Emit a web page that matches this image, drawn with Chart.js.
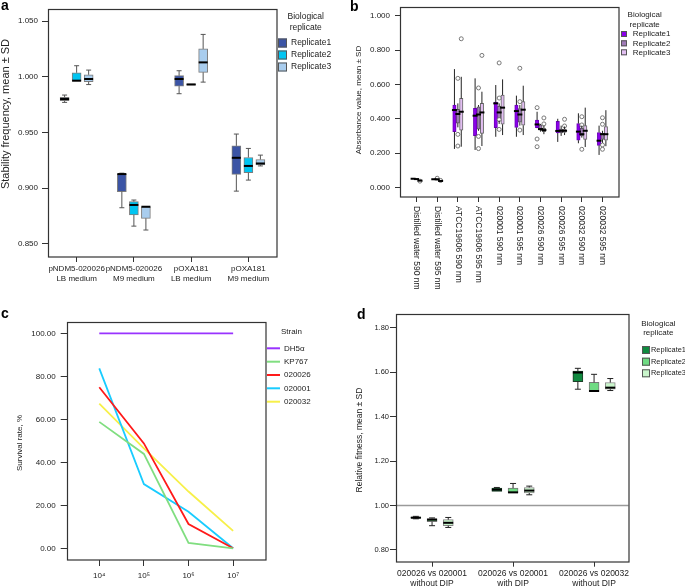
<!DOCTYPE html>
<html>
<head>
<meta charset="utf-8">
<script src="https://cdn.jsdelivr.net/npm/chart.js@4"></script>
<style>
body { margin: 0; background: #fff; width: 685px; height: 588px; position: relative; overflow: hidden; font-family: "Liberation Sans", Arial, sans-serif; }
canvas { position: absolute; }
.tag { position: absolute; font-weight: bold; font-size: 14px; line-height: 14px; color: #000; }
</style>
</head>
<body>
<canvas id="chartA" width="340" height="300" style="left:0;top:0"></canvas>
<canvas id="chartB" width="345" height="300" style="left:340px;top:0"></canvas>
<canvas id="chartC" width="340" height="288" style="left:0;top:300px"></canvas>
<canvas id="chartD" width="345" height="288" style="left:340px;top:300px"></canvas>
<div class="tag" style="left:1px;top:-2px">a</div>
<div class="tag" style="left:350px;top:-1px">b</div>
<div class="tag" style="left:1px;top:306px">c</div>
<div class="tag" style="left:357px;top:307px">d</div>
<script>
// box stats are [min, q1, median, q3, max]

// a: plasmid stability
const aCats = [['pNDM5-020026', 'LB medium'], ['pNDM5-020026', 'M9 medium'], ['pOXA181', 'LB medium'], ['pOXA181', 'M9 medium']];
const aTicks = [0.85, 0.90, 0.95, 1.00, 1.05];
const aRep1 = [[0.977, 0.9785, 0.980, 0.9815, 0.9836], [0.8825, 0.897, 0.9127, 0.9127, 0.9135], [0.9848, 0.9916, 0.998, 1.001, 1.0054], [0.8974, 0.9124, 0.9273, 0.938, 0.9486]];
const aRep2 = [[0.996, 0.996, 0.9965, 1.0036, 1.0099], [0.866, 0.876, 0.885, 0.888, 0.8894], [0.9925, 0.9925, 0.9931, 0.9937, 0.9937], [0.9073, 0.9139, 0.920, 0.9276, 0.9357]];
const aRep3 = [[0.993, 0.9955, 0.998, 1.0018, 1.006], [0.8625, 0.873, 0.8834, 0.8834, 0.8834], [0.9952, 1.004, 1.0129, 1.025, 1.038], [0.920, 0.9208, 0.9222, 0.9258, 0.9297]];

// b: absorbance
const bCats = ['Distilled water 590 nm', 'Distilled water 595 nm', 'ATCC19606 590 nm', 'ATCC19606 595 nm', '020001 590 nm', '020001 595 nm', '020026 590 nm', '020026 595 nm', '020032 590 nm', '020032 595 nm'];
const bTicks = [0, 0.2, 0.4, 0.6, 0.8, 1.0];
const bRep1 = [[0.049, 0.049, 0.050, 0.051, 0.051], [0.046, 0.046, 0.047, 0.048, 0.048], [0.224, 0.325, 0.451, 0.480, 0.690], [0.218, 0.301, 0.418, 0.461, 0.636], [0.295, 0.348, 0.490, 0.498, 0.597], [0.295, 0.350, 0.445, 0.480, 0.535], [0.345, 0.348, 0.367, 0.392, 0.441], [0.265, 0.317, 0.329, 0.385, 0.400], [0.257, 0.275, 0.325, 0.372, 0.432], [0.189, 0.245, 0.272, 0.320, 0.360]];
const bRep2 = [[0.047, 0.047, 0.048, 0.049, 0.049], [0.044, 0.046, 0.047, 0.048, 0.050], [0.350, 0.375, 0.428, 0.455, 0.490], [0.330, 0.340, 0.425, 0.470, 0.480], [0.370, 0.390, 0.437, 0.474, 0.490], [0.360, 0.380, 0.425, 0.460, 0.480], [0.325, 0.334, 0.340, 0.364, 0.370], [0.300, 0.318, 0.330, 0.340, 0.360], [0.290, 0.300, 0.310, 0.345, 0.360], [0.260, 0.280, 0.310, 0.315, 0.330]];
const bRep3 = [[0.037, 0.038, 0.039, 0.040, 0.041], [0.035, 0.036, 0.037, 0.038, 0.039], [0.237, 0.334, 0.441, 0.519, 0.645], [0.241, 0.315, 0.437, 0.490, 0.558], [0.305, 0.368, 0.465, 0.539, 0.630], [0.305, 0.362, 0.453, 0.500, 0.593], [0.310, 0.325, 0.334, 0.344, 0.360], [0.305, 0.320, 0.330, 0.340, 0.355], [0.235, 0.280, 0.330, 0.360, 0.465], [0.240, 0.275, 0.310, 0.355, 0.450]];
// outliers: [category, value]
const bOut1 = [[7, 0.465], [7, 0.282], [7, 0.237]];
const bOut2 = [[2, 0.053], [3, 0.636], [3, 0.309], [3, 0.241], [4, 0.580], [4, 0.297], [4, 0.226], [5, 0.726], [5, 0.521], [5, 0.395], [5, 0.338], [6, 0.695], [6, 0.500], [6, 0.334], [9, 0.412], [9, 0.364], [9, 0.222], [10, 0.406], [10, 0.368], [10, 0.247], [10, 0.222]];
const bOut3 = [[1, 0.036], [2, 0.040], [3, 0.867], [4, 0.770], [7, 0.405], [7, 0.370], [8, 0.397], [8, 0.358]];

// c: survival rate
const cExp = [4, 5, 6, 7];
const cTickLabels = ['10⁴', '10⁵', '10⁶', '10⁷'];
const cTicks = [0, 20, 40, 60, 80, 100];
const survDH5a = [100, 100, 100, 100];
const survKP767 = [58.8, 43.9, 2.5, 0];
const surv020026 = [74.9, 48.8, 11.3, 0];
const surv020001 = [83.7, 29.9, 17, 0];
const surv020032 = [67.3, 46.5, 26.4, 8.1];

// d: relative fitness
const dCats = [['020026 vs 020001', 'without DIP'], ['020026 vs 020001', 'with DIP'], ['020026 vs 020032', 'without DIP']];
const dTicks = [0.8, 1.0, 1.2, 1.4, 1.6, 1.8];
const dRep1 = [[0.940, 0.943, 0.945, 0.948, 0.951], [1.063, 1.063, 1.071, 1.078, 1.081], [1.523, 1.557, 1.598, 1.605, 1.617]];
const dRep2 = [[0.909, 0.927, 0.936, 0.9415, 0.944], [1.056, 1.056, 1.059, 1.078, 1.099], [1.512, 1.512, 1.515, 1.554, 1.590]];
const dRep3 = [[0.901, 0.909, 0.922, 0.936, 0.946], [1.048, 1.056, 1.067, 1.081, 1.087], [1.517, 1.523, 1.530, 1.553, 1.571]];

const FONT = '"Liberation Sans", Arial, sans-serif';
Chart.defaults.font.family = FONT;
Chart.defaults.color = '#222';

// whiskers, medians, frame, legend, axis title
const extras = {
    id: 'extras',
    beforeDatasetsDraw(chart, args, o) {
        if (o.refLine === undefined || o.refLine === null) return;
        const { ctx, chartArea: a, scales: { y } } = chart;
        const py = Math.round(y.getPixelForValue(o.refLine)) + 0.5;
        ctx.save();
        ctx.strokeStyle = '#9a9a9a';
        ctx.lineWidth = 1.3;
        ctx.beginPath();
        ctx.moveTo(a.left, py);
        ctx.lineTo(a.right, py);
        ctx.stroke();
        ctx.restore();
    },
    afterDatasetsDraw(chart, args, o) {
        const { ctx, scales: { y } } = chart;
        chart.data.datasets.forEach((ds, di) => {
            if (!ds.stats) return;
            chart.getDatasetMeta(di).data.forEach((bar, i) => {
                const [lo, q1, med, q3, hi] = ds.stats[i].map(v => y.getPixelForValue(v));
                const x = bar.x, hw = bar.width / 2, cw = (o.cap || 0) / 2;
                ctx.save();
                ctx.strokeStyle = o.whisker || '#222';
                ctx.lineWidth = 1;
                ctx.beginPath();
                if (hi < q3 - 0.5) {
                    ctx.moveTo(x, q3); ctx.lineTo(x, hi);
                    if (cw) { ctx.moveTo(x - cw, hi); ctx.lineTo(x + cw, hi); }
                }
                if (lo > q1 + 0.5) {
                    ctx.moveTo(x, q1); ctx.lineTo(x, lo);
                    if (cw) { ctx.moveTo(x - cw, lo); ctx.lineTo(x + cw, lo); }
                }
                ctx.stroke();
                ctx.strokeStyle = '#000';
                ctx.lineWidth = o.median || 2;
                ctx.beginPath();
                ctx.moveTo(x - hw - (o.medianExt || 0), med);
                ctx.lineTo(x + hw + (o.medianExt || 0), med);
                ctx.stroke();
                ctx.restore();
            });
        });
    },
    afterDraw(chart, args, o) {
        const { ctx, chartArea: a } = chart;
        ctx.save();
        ctx.strokeStyle = '#333';
        ctx.lineWidth = 1.2;
        const l = Math.round(a.left) + 0.5, t = Math.round(a.top) + 0.5;
        ctx.strokeRect(l, t, Math.round(a.right) - l, Math.round(a.bottom) - t);

        const yt = o.yTitle;
        if (yt) {
            ctx.save();
            ctx.font = yt.size + 'px ' + FONT;
            ctx.fillStyle = '#222';
            ctx.textAlign = 'center';
            ctx.textBaseline = 'middle';
            ctx.translate(yt.x, yt.y);
            ctx.rotate(-Math.PI / 2);
            ctx.fillText(yt.text, 0, 0);
            ctx.restore();
        }

        const lg = o.legend;
        if (lg) {
            ctx.font = lg.size + 'px ' + FONT;
            ctx.fillStyle = '#222';
            ctx.textBaseline = 'middle';
            ctx.textAlign = lg.titleAlign || 'center';
            lg.title.forEach((txt, k) => ctx.fillText(txt, lg.titleX, lg.titleY[k]));
            ctx.textAlign = 'left';
            if (lg.labelSize) ctx.font = lg.labelSize + 'px ' + FONT;
            chart.data.datasets.filter(d => d.label).forEach((d, k) => {
                const yy = lg.ys[k];
                if (lg.line) {
                    ctx.strokeStyle = d.borderColor;
                    ctx.lineWidth = 2;
                    ctx.beginPath();
                    ctx.moveTo(lg.swX, yy);
                    ctx.lineTo(lg.swX + lg.swW, yy);
                    ctx.stroke();
                } else {
                    ctx.fillStyle = d.backgroundColor;
                    ctx.fillRect(lg.swX, yy - lg.swH / 2, lg.swW, lg.swH);
                    ctx.strokeStyle = '#555';
                    ctx.lineWidth = 1;
                    ctx.strokeRect(lg.swX + 0.5, yy - lg.swH / 2 + 0.5, lg.swW - 1, lg.swH - 1);
                }
                ctx.fillStyle = '#222';
                ctx.fillText(d.label, lg.labelX, yy);
            });
        }

        const rl = o.rotLabels;
        if (rl) {
            const xs = chart.scales.x;
            ctx.font = rl.size + 'px ' + FONT;
            ctx.fillStyle = '#222';
            ctx.textAlign = 'left';
            ctx.textBaseline = 'middle';
            rl.labels.forEach((txt, i) => {
                ctx.save();
                ctx.translate(xs.getPixelForValue(i + 1), a.bottom + rl.gap);
                ctx.rotate(Math.PI / 2);
                ctx.fillText(txt, 0, 0);
                ctx.restore();
            });
        }
        ctx.restore();
    }
};
Chart.register(extras);

function boxDataset(label, stats, shift, width, fill, border) {
    return {
        label: label,
        stats: stats,
        grouped: false,
        barThickness: width,
        backgroundColor: fill,
        borderColor: border,
        borderWidth: 1,
        borderSkipped: false,
        data: stats.map((s, i) => ({ x: i + 1 + shift, y: [s[1], s[3]] }))
    };
}

function outlierDataset(points, shift) {
    return {
        type: 'scatter',
        order: -1,
        data: points.map(p => ({ x: p[0] + shift, y: p[1] })),
        pointRadius: 2,
        pointBorderWidth: 1,
        pointBorderColor: '#777',
        pointBackgroundColor: '#fff'
    };
}

function xAxis(positions, labels, min, max, h, size, tl, pad, lh) {
    return {
        type: 'linear', min: min, max: max, bounds: 'data', offset: false,
        grid: { offset: false, drawOnChartArea: false, drawTicks: true, tickLength: tl, color: '#333', tickColor: '#333' },
        border: { display: false },
        ticks: {
            autoSkip: false, maxRotation: 0, minRotation: 0, padding: pad,
            font: { size: size, lineHeight: lh || 1.2 }, color: '#222',
            callback: (v, i) => labels ? labels[i] : ''
        },
        afterBuildTicks: s => { s.ticks = positions.map(p => ({ value: p })); },
        afterFit: s => { s.height = h; s.paddingLeft = 0; s.paddingRight = 0; }
    };
}

function yAxis(vals, min, max, w, digits, size, tl, pad) {
    return {
        min: min, max: max, bounds: 'data', beginAtZero: false,
        grid: { drawOnChartArea: false, tickLength: tl, color: '#333', tickColor: '#333' },
        border: { display: false },
        ticks: { padding: pad, font: { size: size }, color: '#222', callback: v => v.toFixed(digits) },
        afterBuildTicks: s => { s.ticks = vals.map(v => ({ value: v })); },
        afterFit: s => { s.width = w; s.paddingTop = 0; s.paddingBottom = 0; }
    };
}

const baseOptions = {
    responsive: false,
    animation: false,
    events: []
};

// Panel a
const aChart = new Chart(document.getElementById('chartA'), {
    type: 'bar',
    data: {
        datasets: [
            boxDataset('Replicate1', aRep1, -0.21, 9, '#3b54a5', '#7d7d7d'),
            boxDataset('Replicate2', aRep2, 0, 9, '#00c5f2', '#7d7d7d'),
            boxDataset('Replicate3', aRep3, 0.21, 9, '#a9cdee', '#7d7d7d')
        ]
    },
    options: {
        ...baseOptions,
        layout: { padding: { left: 0, top: 9, right: 63, bottom: 0 } },
        scales: {
            x: xAxis([1, 2, 3, 4], aCats, 0.5, 4.5, 43, 8, 5, 1, 1.35),
            y: yAxis(aTicks, 0.8383, 1.0608, 48, 3, 8, 6, 4)
        },
        plugins: {
            legend: { display: false },
            tooltip: { enabled: false },
            extras: {
                whisker: '#555', cap: 5, median: 2,
                yTitle: { text: 'Stability frequency, mean ± SD', x: 5.5, y: 114, size: 11 },
                legend: { title: ['Biological', 'replicate'], titleX: 305.7, titleY: [17, 28], swX: 278, swW: 9, swH: 9, ys: [43, 55, 67], labelX: 291, size: 8.5 }
            }
        }
    }
});

// Panel b
const bPos = bCats.map((c, i) => i + 1);
const bChart = new Chart(document.getElementById('chartB'), {
    type: 'bar',
    data: {
        datasets: [
            boxDataset('Replicate1', bRep1, -0.165, 3.4, '#8a00ea', '#6c00b8'),
            boxDataset('Replicate2', bRep2, 0, 3.4, '#a07ab8', '#555'),
            boxDataset('Replicate3', bRep3, 0.165, 3.4, '#e2bff2', '#666'),
            outlierDataset(bOut1, -0.165),
            outlierDataset(bOut2, 0),
            outlierDataset(bOut3, 0.165)
        ]
    },
    options: {
        ...baseOptions,
        layout: { padding: { left: 14, top: 7, right: 66, bottom: 0 } },
        scales: {
            x: xAxis(bPos, null, 0.2, 10.8, 103, 8, 5, 2),
            y: yAxis(bTicks, -0.0566, 1.0525, 46, 3, 8, 5, 5)
        },
        plugins: {
            legend: { display: false },
            tooltip: { enabled: false },
            extras: {
                whisker: '#222', cap: 0, median: 2, medianExt: 0.8,
                yTitle: { text: 'Absorbance value, mean ± SD', x: 19, y: 100, size: 8 },
                legend: { title: ['Biological', 'replicate'], titleX: 304.7, titleY: [15, 25], swX: 281, swW: 6, swH: 6, ys: [34, 43.3, 52.3], labelX: 292.7, size: 8 },
                rotLabels: { labels: bCats, gap: 9, size: 8.5 }
            }
        }
    }
});

// Panel c
function survLine(label, values, color) {
    return {
        label: label,
        data: values.map((v, i) => ({ x: cExp[i], y: v })),
        borderColor: color,
        backgroundColor: color,
        borderWidth: 1.8,
        pointRadius: 0,
        tension: 0
    };
}
const cChart = new Chart(document.getElementById('chartC'), {
    type: 'line',
    data: {
        datasets: [
            survLine('DH5α', survDH5a, '#9933ff'),
            survLine('KP767', survKP767, '#80de80'),
            survLine('020026', surv020026, '#ff1a1a'),
            survLine('020001', surv020001, '#19ccff'),
            survLine('020032', surv020032, '#f7f04a')
        ]
    },
    options: {
        ...baseOptions,
        layout: { padding: { left: 15, top: 21.7, right: 74.3, bottom: 0 } },
        scales: {
            x: xAxis(cExp, cTickLabels, 3.27, 7.73, 28, 8, 6, 5),
            y: yAxis(cTicks, -5.44, 105.4, 51.7, 2, 8, 6, 5)
        },
        plugins: {
            legend: { display: false },
            tooltip: { enabled: false },
            extras: {
                yTitle: { text: 'Survival rate, %', x: 20, y: 143, size: 8 },
                legend: { title: ['Strain'], titleAlign: 'left', titleX: 281, titleY: [32], line: true, swX: 267, swW: 13, ys: [48.3, 61.7, 75, 88.3, 101.7], labelX: 284, size: 8 }
            }
        }
    }
});

// Panel d
const dChart = new Chart(document.getElementById('chartD'), {
    type: 'bar',
    data: {
        datasets: [
            boxDataset('Replicate1', dRep1, -0.2, 10, '#0f8a3f', '#1e3d28'),
            boxDataset('Replicate2', dRep2, 0, 10, '#6fdb83', '#777'),
            boxDataset('Replicate3', dRep3, 0.2, 10, '#c9f5cb', '#888')
        ]
    },
    options: {
        ...baseOptions,
        layout: { padding: { left: 15, top: 14.3, right: 56.5, bottom: 0 } },
        scales: {
            x: xAxis([1, 2, 3], dCats, 0.555, 3.425, 26.3, 8.5, 5, 2),
            y: yAxis(dTicks, 0.747, 1.860, 41, 2, 7.5, 6, 1)
        },
        plugins: {
            legend: { display: false },
            tooltip: { enabled: false },
            extras: {
                whisker: '#222', cap: 6, median: 2, refLine: 1.0,
                yTitle: { text: 'Relative fitness, mean ± SD', x: 20, y: 140, size: 8.5 },
                legend: { title: ['Biological', 'replicate'], titleX: 318.3, titleY: [24, 33], swX: 302, swW: 8, swH: 8, ys: [50, 61.7, 73.3], labelX: 311, size: 8, labelSize: 7.4 }
            }
        }
    }
});
</script>
</body>
</html>
